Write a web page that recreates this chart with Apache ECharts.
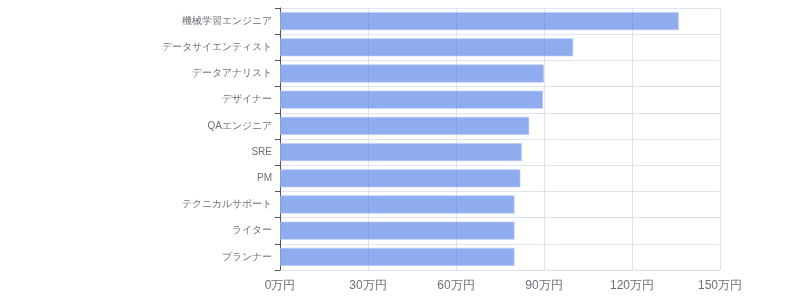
<!DOCTYPE html>
<html><head><meta charset="utf-8">
<script src="https://cdn.jsdelivr.net/npm/echarts@6/dist/echarts.min.js"></script>
<style>html,body{margin:0;padding:0;background:#fff}#c{width:800px;height:300px}</style>
</head><body><div id="c"></div>
<script>
const categories = ['機械学習エンジニア','データサイエンティスト','データアナリスト','デザイナー','QAエンジニア','SRE','PM','テクニカルサポート','ライター','プランナー'];
const salaries = [136, 100, 90, 89.7, 85, 82.5, 82, 80, 80, 80];
const xTicks = [0, 30, 60, 90, 120, 150];

const chart = echarts.init(document.getElementById('c'));
chart.setOption({
  animation: false,
  textStyle: { fontFamily: 'sans-serif' },
  grid: { left: 280, right: 80, top: 8, bottom: 30 },
  xAxis: {
    type: 'value', min: xTicks[0], max: xTicks[xTicks.length-1], interval: 30,
    axisLine: { show: false }, axisTick: { show: false },
    splitLine: { show: true, lineStyle: { color: '#dde3f1', width: 1 } },
    axisLabel: { color: '#6e7079', fontSize: 12, margin: 10, formatter: v => v + '万円' }
  },
  yAxis: {
    type: 'category', data: categories, inverse: true,
    axisLine: { show: true, lineStyle: { color: '#555' } },
    axisTick: { show: true, length: 5, lineStyle: { color: '#555' } },
    splitLine: { show: true, lineStyle: { color: '#dde3f1', width: 1 } },
    axisLabel: { color: '#6e7079', fontSize: 10, margin: 8 }
  },
  series: [{
    type: 'bar', data: salaries, barCategoryGap: '30%',
    itemStyle: { color: 'rgba(83,129,229,0.65)', borderColor: 'rgba(180,200,245,0.6)', borderWidth: 1 }
  }]
});
</script></body></html>
